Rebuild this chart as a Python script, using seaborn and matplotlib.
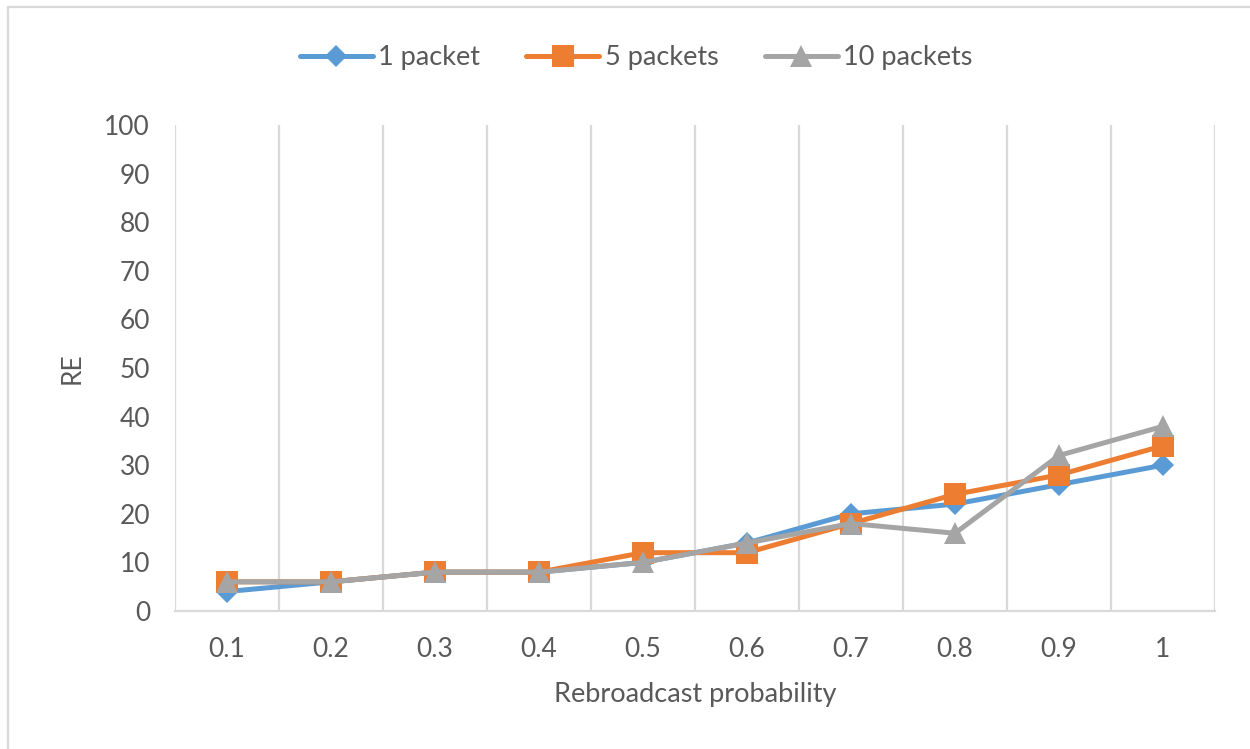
import matplotlib
matplotlib.use("Agg")
import matplotlib.pyplot as plt
import seaborn as sns
import pandas as pd
import numpy as np

categories = ["0.1", "0.2", "0.3", "0.4", "0.5", "0.6", "0.7", "0.8", "0.9", "1"]
one_packet = [4, 6, 8, 8, 10, 14, 20, 22, 26, 30]
five_packets = [6, 6, 8, 8, 12, 12, 18, 24, 28, 34]
ten_packets = [6, 6, 8, 8, 10, 14, 18, 16, 32, 38]
series_names = ["1 packet", "5 packets", "10 packets"]
colors = ["#5B9BD5", "#ED7D31", "#A5A5A5"]
markers = ["D", "s", "^"]
marker_sizes = [11, 16, 16]

sns.set_theme(style="white")
plt.rcParams["font.family"] = ["Lato", "DejaVu Sans"]

frames = []
for name, vals in zip(series_names, [one_packet, five_packets, ten_packets]):
    frames.append(pd.DataFrame({"pos": np.arange(len(categories)), "RE": vals, "series": name}))
df = pd.concat(frames, ignore_index=True)

fig = plt.figure(figsize=(12.5, 7.49), dpi=100)
ax = fig.add_axes([175 / 1250, 1 - 611 / 749, (1215 - 175) / 1250, (611 - 125) / 749])

for name, col, mk, ms in zip(series_names, colors, markers, marker_sizes):
    sub = df[df["series"] == name]
    sns.lineplot(data=sub, x="pos", y="RE", ax=ax, color=col, linewidth=3.6,
                 marker=mk, markersize=ms, markeredgewidth=0, label=name)

ax.set_xlim(-0.5, len(categories) - 0.5)
ax.set_ylim(0, 100)
ax.set_yticks(range(0, 101, 10))
ax.set_xticks(range(len(categories)))
ax.set_xticklabels(categories)

# vertical gridlines between categories
for b in np.arange(-0.5, len(categories), 1.0):
    ax.axvline(b, color="#D9D9D9", linewidth=1.6, zorder=0)

for s in ["top", "right", "left"]:
    ax.spines[s].set_visible(False)
ax.spines["bottom"].set_color("#D9D9D9")
ax.spines["bottom"].set_linewidth(1.6)

ax.tick_params(axis="y", length=0, labelsize=19, labelcolor="#595959", pad=18)
ax.tick_params(axis="x", length=0, labelsize=19, labelcolor="#595959", pad=19)
ax.set_xlabel("Rebroadcast probability", fontsize=19.5, color="#595959", labelpad=14)
ax.set_ylabel("RE", fontsize=19, color="#595959", labelpad=14)

leg = ax.legend(loc="center", bbox_to_anchor=(636 / 1250, (749 - 58) / 749), bbox_transform=fig.transFigure,
                ncol=3, frameon=False, fontsize=19.5, handlelength=2.7, columnspacing=1.7,
                handletextpad=0.2)
for t in leg.get_texts():
    t.set_color("#595959")

# outer chart border (top and left edges fall inside the image)
fig.add_artist(plt.Line2D([8 / 1250, 8 / 1250], [0, 1 - 7 / 749], transform=fig.transFigure,
                          color="#D9D9D9", linewidth=1.6))
fig.add_artist(plt.Line2D([8 / 1250, 1], [1 - 7 / 749, 1 - 7 / 749], transform=fig.transFigure,
                          color="#D9D9D9", linewidth=1.6))

fig.savefig("out.png", dpi=100)
